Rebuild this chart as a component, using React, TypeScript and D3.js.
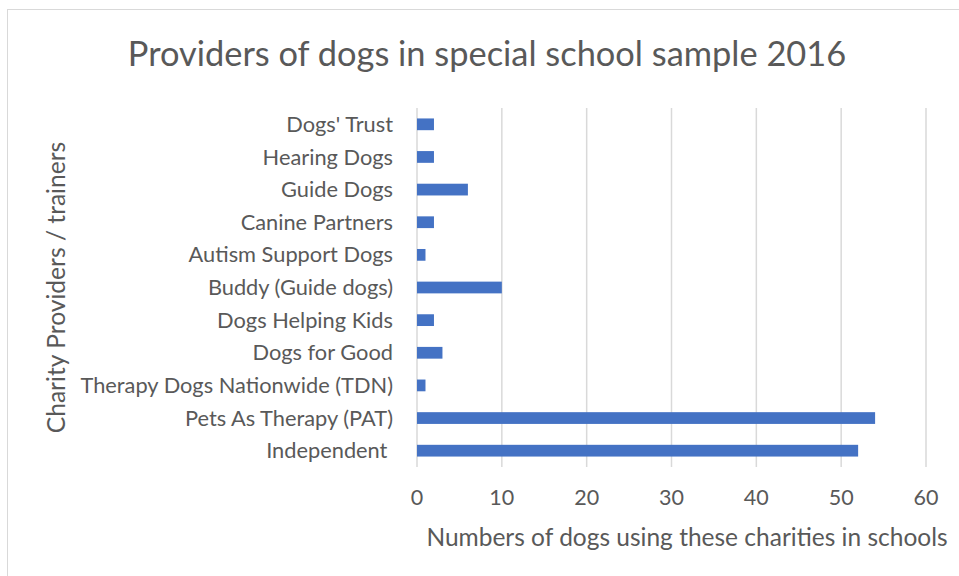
import React from 'react'
import * as d3 from 'd3'

const categories = [
  "Dogs' Trust",
  'Hearing Dogs',
  'Guide Dogs',
  'Canine Partners',
  'Autism Support Dogs',
  'Buddy (Guide dogs)',
  'Dogs Helping Kids',
  'Dogs for Good',
  'Therapy Dogs Nationwide (TDN)',
  'Pets As Therapy (PAT)',
  'Independent ',
]
const dogCounts = [2, 2, 6, 2, 1, 10, 2, 3, 1, 54, 52]
const xTicks = [0, 10, 20, 30, 40, 50, 60]

const title = 'Providers of dogs in special school sample 2016'
const xTitle = 'Numbers of dogs using these charities in schools'
const yTitle = 'Charity Providers / trainers'

const W = 959
const H = 576
const plot = { left: 417, right: 926, top: 108, bottom: 467 }
const font = "Lato, 'Open Sans', sans-serif"
const textColor = '#595959'

const App: React.FC = () => {
  const x = d3.scaleLinear().domain([0, 60]).range([plot.left, plot.right])
  const y = d3.scaleBand<string>()
    .domain(categories)
    .range([plot.top, plot.bottom])
    .paddingInner(0.64)
    .paddingOuter(0.32)

  return (
    <div style={{ position: 'fixed', left: 0, top: 0 }}>
      <svg width={W} height={H} style={{ display: 'block', background: '#fff' }} fontFamily={font}>
        <rect x={7.5} y={9.5} width={W + 20} height={H + 20} fill="#fff" stroke="#d9d9d9" strokeWidth={1} />

        <text x={487} y={66} textAnchor="middle" fontSize={34.4} fill={textColor}>{title}</text>

        {/* gridlines */}
        {xTicks.map(t => (
          <line key={t} x1={x(t)} x2={x(t)} y1={plot.top} y2={plot.bottom} stroke="#d9d9d9" strokeWidth={1.5} />
        ))}

        {/* bars */}
        {categories.map((c, i) => (
          <rect key={c} x={x(0)} y={y(c)} width={x(dogCounts[i]) - x(0)} height={y.bandwidth()} fill="#4472c4" />
        ))}

        {/* category labels */}
        {categories.map(c => (
          <text key={c} x={393} y={(y(c) || 0) + y.bandwidth() / 2} dy="0.35em" textAnchor="end"
            fontSize={21.8} fill={textColor} style={{ whiteSpace: 'pre' }}>{c}</text>
        ))}

        {/* x tick labels */}
        {xTicks.map(t => (
          <text key={t} x={x(t)} y={505} textAnchor="middle" fontSize={21.5} fill={textColor}>{t}</text>
        ))}

        <text x={687} y={546} textAnchor="middle" fontSize={24.5} fill={textColor}>{xTitle}</text>
        <text transform={`translate(65, ${(plot.top + plot.bottom) / 2}) rotate(-90)`} textAnchor="middle"
          fontSize={24.6} fill={textColor}>{yTitle}</text>
      </svg>
    </div>
  )
}

export default App
